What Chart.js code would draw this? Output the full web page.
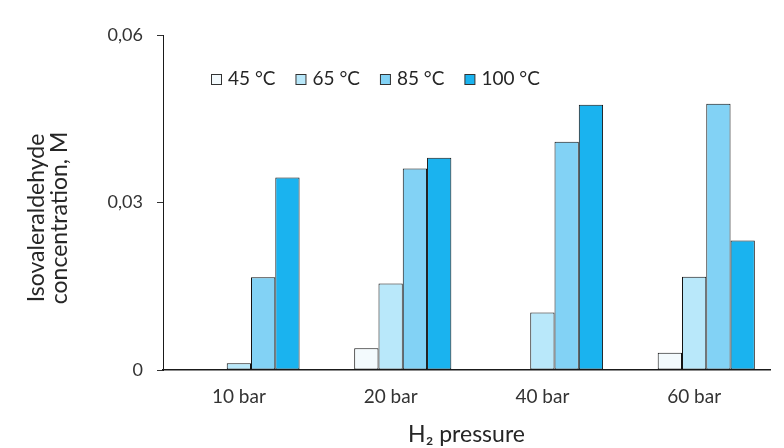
<!DOCTYPE html>
<html>
<head>
<meta charset="utf-8">
<script src="https://cdn.jsdelivr.net/npm/chart.js@4/dist/chart.umd.min.js"></script>
<style>
  html, body { margin: 0; padding: 0; background: #ffffff; }
  #wrap { width: 784px; height: 448px; }
</style>
</head>
<body>
<div id="wrap"><canvas id="c" width="784" height="448"></canvas></div>
<script>
// Isovaleraldehyde concentration (M) by H2 pressure and temperature
const pressures = ['10 bar', '20 bar', '40 bar', '60 bar'];
const temps = ['45 °C', '65 °C', '85 °C', '100 °C'];
const conc45 = [0, 0.0039, 0, 0.0031];
const conc65 = [0.0012, 0.0155, 0.0103, 0.0167];
const conc85 = [0.0166, 0.0361, 0.0409, 0.0477];
const conc100 = [0.0345, 0.0380, 0.0475, 0.0232];
const yTicks = [0, 0.03, 0.06];
const yTitle = ['Isovaleraldehyde', 'concentration, M'];
const xTitle = 'H₂ pressure';

const fills = ['#f3fafd', '#b9e8fa', '#82d2f5', '#1ab3ef'];
const FONT = 'Lato, "Open Sans", sans-serif';

const series = [conc45, conc65, conc85, conc100];

// an empty leading slot keeps each group of bars in its original place
const datasets = [{
  label: '',
  data: pressures.map(() => null),
  backgroundColor: 'rgba(0,0,0,0)',
  borderWidth: 0,
  isSpacer: true
}].concat(series.map((vals, i) => ({
  label: temps[i],
  data: vals,
  backgroundColor: fills[i],
  borderColor: '#111111',
  borderWidth: 1,
  borderSkipped: false
})));

// legend drawn inside the plot area, row of boxed swatches
const innerLegend = {
  id: 'innerLegend',
  afterDraw(chart) {
    const ctx = chart.ctx;
    ctx.save();
    ctx.font = '19px ' + FONT;
    ctx.textBaseline = 'middle';
    ctx.textAlign = 'left';
    let x = 211;
    const y = 79;
    const box = 10;
    chart.data.datasets.forEach(ds => {
      if (ds.isSpacer) return;
      ctx.fillStyle = ds.backgroundColor;
      ctx.fillRect(x + 0.5, y - box / 2 + 0.5, box, box);
      ctx.strokeStyle = '#333333';
      ctx.lineWidth = 1;
      ctx.strokeRect(x + 0.5, y - box / 2 + 0.5, box, box);
      ctx.fillStyle = '#262626';
      const tx = x + box + 7;
      ctx.fillText(ds.label, tx, y);
      x = tx + ctx.measureText(ds.label).width + 20;
    });
    ctx.restore();
  }
};

// two-line rotated title for the value axis
const valueTitle = {
  id: 'valueTitle',
  afterDraw(chart) {
    const ctx = chart.ctx;
    ctx.save();
    ctx.font = '23px ' + FONT;
    ctx.fillStyle = '#262626';
    ctx.textAlign = 'center';
    ctx.textBaseline = 'middle';
    ctx.translate(37, 218);
    ctx.rotate(-Math.PI / 2);
    yTitle.forEach((line, i) => ctx.fillText(line, 0, i * 23));
    ctx.restore();
  }
};

new Chart(document.getElementById('c'), {
  type: 'bar',
  data: { labels: pressures, datasets: datasets },
  options: {
    responsive: false,
    animation: false,
    devicePixelRatio: 1,
    layout: { padding: { top: 35, right: 14, bottom: 0, left: 0 } },
    plugins: {
      legend: { display: false },
      tooltip: { enabled: false }
    },
    datasets: {
      bar: { categoryPercentage: 0.8, barPercentage: 1 }
    },
    scales: {
      x: {
        grid: { display: false, drawTicks: false },
        border: { display: true, color: '#1a1a1a', width: 1.5 },
        ticks: {
          font: { family: FONT, size: 19 },
          color: '#333333',
          padding: 15
        },
        title: {
          display: true,
          text: xTitle,
          font: { family: FONT, size: 23 },
          color: '#262626',
          padding: { top: 0, bottom: 0 }
        },
        afterFit(scale) { scale.height = 78; }
      },
      y: {
        min: 0,
        max: 0.06,
        afterBuildTicks(scale) { scale.ticks = yTicks.map(v => ({ value: v })); },
        grid: {
          drawOnChartArea: false,
          drawTicks: true,
          tickLength: 6,
          tickColor: '#333333'
        },
        border: { display: true, color: '#1a1a1a', width: 1 },
        ticks: {
          font: { family: FONT, size: 18 },
          color: '#333333',
          padding: 14,
          callback: v => v === 0 ? '0' : v.toFixed(2).replace('.', ',')
        },
        afterFit(scale) { scale.width = 163; }
      }
    }
  },
  plugins: [innerLegend, valueTitle]
});
</script>
</body>
</html>
